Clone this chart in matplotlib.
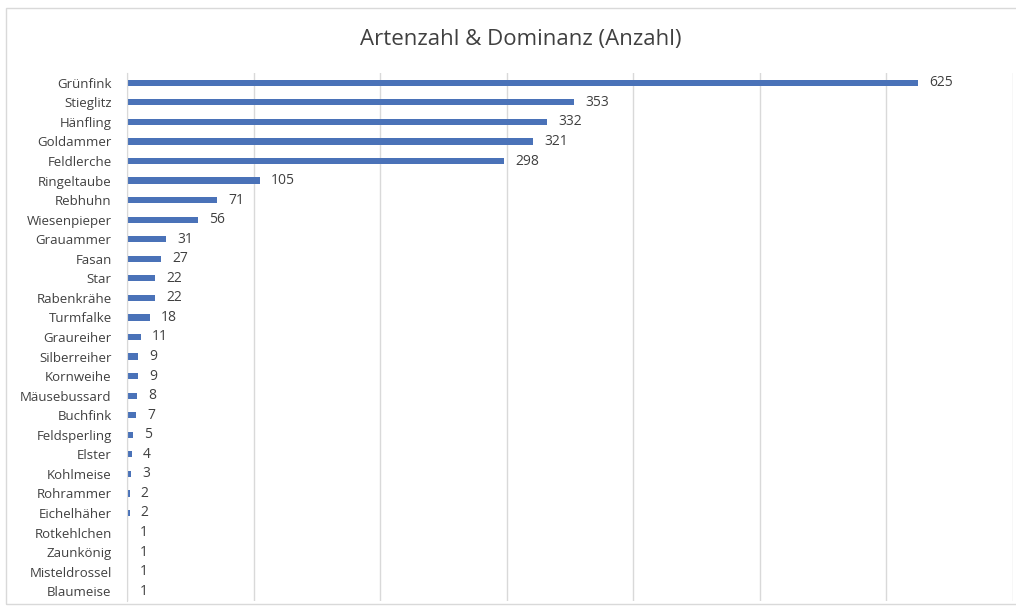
import matplotlib
matplotlib.use("Agg")
import matplotlib.pyplot as plt
from matplotlib.patches import Rectangle

categories = ["Grünfink", "Stieglitz", "Hänfling", "Goldammer", "Feldlerche", "Ringeltaube",
              "Rebhuhn", "Wiesenpieper", "Grauammer", "Fasan", "Star", "Rabenkrähe",
              "Turmfalke", "Graureiher", "Silberreiher", "Kornweihe", "Mäusebussard",
              "Buchfink", "Feldsperling", "Elster", "Kohlmeise", "Rohrammer", "Eichelhäher",
              "Rotkehlchen", "Zaunkönig", "Misteldrossel", "Blaumeise"]
values = [625, 353, 332, 321, 298, 105, 71, 56, 31, 27, 22, 22, 18, 11, 9, 9, 8, 7, 5, 4, 3, 2, 2, 1, 1, 1, 1]
title = "Artenzahl & Dominanz (Anzahl)"

plt.rcParams['font.family'] = ['Open Sans', 'DejaVu Sans']
W, H = 1016, 612
fig = plt.figure(figsize=(W/100, H/100), dpi=100)
fig.patches.append(Rectangle((6/W, 1 - 604/H), 1.2, (604-8)/H, transform=fig.transFigure,
                             fill=False, edgecolor="#d9d9d9", linewidth=1))

ax = fig.add_axes([127/W, 1 - 601/H, (1013-127)/W, (601-73)/H])
y = list(range(len(categories)))
bars = ax.barh(y, values, height=0.32, color="#4a72b8")
ax.set_ylim(len(categories) - 0.5, -0.5)
ax.set_xlim(0, 700)
ax.set_xticks(range(0, 701, 100))
ax.set_xticklabels([])
ax.tick_params(axis='x', length=0)
ax.set_yticks(y)
ax.set_yticklabels(categories, fontsize=9.5, color="#404040")
ax.tick_params(axis='y', length=0, pad=11)
ax.grid(axis='x', color="#d9d9d9", linewidth=1)
ax.set_axisbelow(True)
for s in ["top", "right", "bottom"]:
    ax.spines[s].set_visible(False)
ax.spines["left"].set_color("#d9d9d9")
for b, v in zip(bars, values):
    ax.annotate(str(v), (b.get_width(), b.get_y() + b.get_height()/2), xytext=(8, 0),
                textcoords="offset points", va="center", ha="left", fontsize=10, color="#404040")
fig.text(521/W, 1 - 40/H, title, ha="center", va="center", fontsize=16, color="#404040")
fig.savefig("out.png", dpi=100)
